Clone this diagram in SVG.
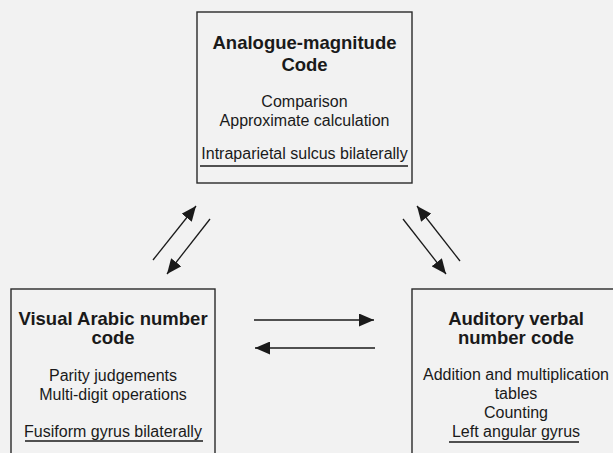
<svg xmlns="http://www.w3.org/2000/svg" width="613" height="453" viewBox="0 0 613 453">
  <style>
    .box { fill: #f2f2f2; stroke: #2a2a2a; stroke-width: 1.4; }
    .title { font-family: "Liberation Sans", Arial, sans-serif; font-weight: bold; font-size: 18.5px; fill: #1a1a1a; text-anchor: middle; }
    .body { font-family: "Liberation Sans", Arial, sans-serif; font-size: 16px; fill: #1a1a1a; text-anchor: middle; }
    .ul { stroke: #1a1a1a; stroke-width: 1.3; }
    .conn { stroke: #1a1a1a; stroke-width: 1.3; fill: none; marker-end: url(#head); }
  </style>
  <defs>
    <marker id="head" viewBox="0 0 15 13" refX="15" refY="6.5" markerWidth="15" markerHeight="13" markerUnits="userSpaceOnUse" orient="auto">
      <path d="M0,0 L15,6.5 L0,13 z" fill="#1a1a1a"/>
    </marker>
  </defs>
  <rect width="613" height="453" fill="#f2f2f2"/>

  <g id="analogue-magnitude">
    <rect class="box" x="197" y="12" width="215" height="171"/>
    <text class="title" x="304.5" y="49">Analogue-magnitude</text>
    <text class="title" x="304.5" y="71">Code</text>
    <text class="body" x="304.5" y="107">Comparison</text>
    <text class="body" x="304.5" y="126">Approximate calculation</text>
    <text class="body" x="304.5" y="159">Intraparietal sulcus bilaterally</text>
    <line class="ul" x1="200" y1="166" x2="408" y2="166"/>
  </g>

  <g id="visual-arabic">
    <rect class="box" x="11" y="289" width="204" height="180"/>
    <text class="title" x="113" y="325">Visual Arabic number</text>
    <text class="title" x="113" y="344">code</text>
    <text class="body" x="113" y="381">Parity judgements</text>
    <text class="body" x="113" y="400">Multi-digit operations</text>
    <text class="body" x="113" y="437">Fusiform gyrus bilaterally</text>
    <line class="ul" x1="25" y1="441" x2="203" y2="441"/>
  </g>

  <g id="auditory-verbal">
    <rect class="box" x="412" y="289" width="208" height="180"/>
    <text class="title" x="516" y="325">Auditory verbal</text>
    <text class="title" x="516" y="344">number code</text>
    <text class="body" x="516" y="380">Addition and multiplication</text>
    <text class="body" x="516" y="399">tables</text>
    <text class="body" x="516" y="418">Counting</text>
    <text class="body" x="516" y="437">Left angular gyrus</text>
    <line class="ul" x1="449" y1="442" x2="579" y2="442"/>
  </g>

  <g id="connectors">
    <line class="conn" x1="153" y1="260" x2="196" y2="206"/>
    <line class="conn" x1="210" y1="219" x2="167" y2="274"/>
    <line class="conn" x1="460" y1="261" x2="417" y2="206"/>
    <line class="conn" x1="403" y1="219" x2="446" y2="274"/>
    <line class="conn" x1="254" y1="320" x2="374" y2="320"/>
    <line class="conn" x1="375" y1="348" x2="255" y2="348"/>
  </g>
</svg>
